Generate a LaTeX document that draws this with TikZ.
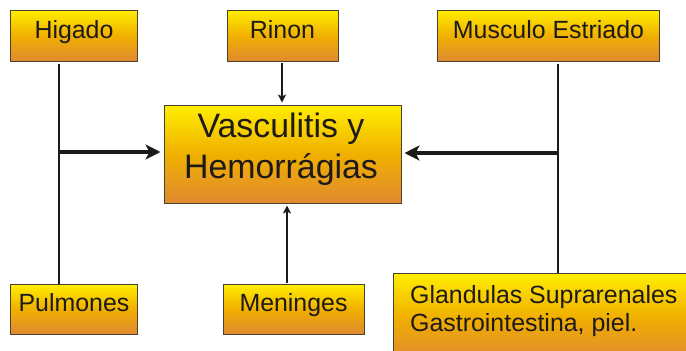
\documentclass[tikz,border=0pt]{standalone}
\usepackage{fontspec}
\setmainfont{Liberation Sans}
\usetikzlibrary{arrows.meta,calc}
\definecolor{gtop}{HTML}{FFEE00}
\definecolor{gmid}{HTML}{F0B000}
\definecolor{gbot}{HTML}{E08A30}
\definecolor{edge}{HTML}{4A4030}
\definecolor{ink}{HTML}{1E1A1A}
\begin{document}
\begin{tikzpicture}[x=1bp,y=-1bp,
  box/.style={draw=edge, line width=1bp, top color=gtop, bottom color=gbot, middle color=gmid,
    inner sep=0pt, text=ink, font=\fontsize{25}{30}\selectfont, text height=0.72em, text depth=0.21em},
  conn/.style={draw=ink, line width=2.4bp, shorten <=2bp},
  bigarrow/.style={draw=ink, line width=3.6bp, shorten >=3bp, -{Stealth[length=15bp,width=15bp,inset=4bp]}},
  smallarrow/.style={draw=ink, line width=2.4bp, shorten <=1bp, shorten >=2bp, -{Stealth[length=8bp,width=8bp,inset=2bp]}},
  lbl/.style={inner sep=0pt, text=ink}]
\clip (0,0) rectangle (686,350);
\fill[white] (0,0) rectangle (686,350);
% boxes
\node[box, minimum width=126bp, minimum height=51bp] (hig) at (74,35.5) {Higado};
\node[box, minimum width=111bp, minimum height=51bp] (rin) at (282.5,35.5) {Rinon};
\node[box, minimum width=222bp, minimum height=51bp] (mus) at (548.5,35.5) {Musculo Estriado};
\node[box, minimum width=237bp, minimum height=98bp] (cen) at (282.5,154) {};
\node[box, minimum width=126bp, minimum height=50bp] (pul) at (74,309) {Pulmones};
\node[box, minimum width=141bp, minimum height=50bp] (men) at (293.5,309) {Meninges};
\node[box, minimum width=307bp, minimum height=87bp] (gla) at (546.5,316.5) {};
% texts of the large boxes
\node[lbl, font=\fontsize{34}{41}\selectfont, align=center] (centxt) at (281,149) {Vasculitis y\\Hemorrágias};
\node[lbl, font=\fontsize{25}{29}\selectfont, align=left, anchor=west] (glatxt) at (410,311) {Glandulas Suprarenales\\Gastrointestina, piel.};
% junction coordinates
\coordinate (jl) at (59,152);
\coordinate (jr) at (558,153);
\coordinate (rx) at (282,80);
\coordinate (mx) at (287,250);
% connectors
\draw[conn] (hig.south -| jl) -- (pul.north -| jl);
\draw[conn] (mus.south -| jr) -- (gla.north -| jr);
\draw[bigarrow] (jl) -- (cen.west |- jl);
\draw[bigarrow] (jr) -- (cen.east |- jr);
\draw[smallarrow] (rin.south -| rx) -- (cen.north -| rx);
\draw[smallarrow] (men.north -| mx) -- (cen.south -| mx);
\end{tikzpicture}
\end{document}
